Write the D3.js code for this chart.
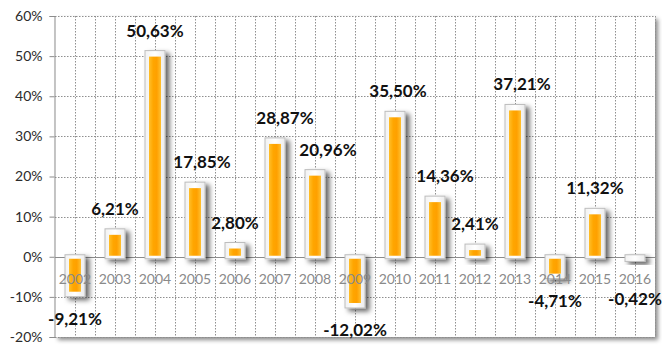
<!DOCTYPE html>
<html>
<head>
<meta charset="utf-8">
<script src="https://cdn.jsdelivr.net/npm/d3@7"></script>
<style>
  html, body { margin: 0; padding: 0; background: #fff; }
  svg { display: block; }
</style>
</head>
<body>
<svg id="chart" width="662" height="347"></svg>
<script>
// Annual returns, 2002–2016
const years = ["2002","2003","2004","2005","2006","2007","2008","2009","2010","2011","2012","2013","2014","2015","2016"];
const returns = [-9.21, 6.21, 50.63, 17.85, 2.80, 28.87, 20.96, -12.02, 35.50, 14.36, 2.41, 37.21, -4.71, 11.32, -0.42];
const yTicks = [-20, -10, 0, 10, 20, 30, 40, 50, 60];

const W = 662, H = 347;
const margin = { top: 16, right: 7, bottom: 10, left: 55 };
const svg = d3.select("#chart");
const defs = svg.append("defs");

const x = d3.scaleBand().domain(years).range([margin.left, W - margin.right]).padding(0);
const y = d3.scaleLinear().domain([-20, 60]).range([H - margin.bottom, margin.top]);

// decimal comma, plain hyphen for negatives
const fmt = v => (v < 0 ? "-" : "") + d3.format(".2f")(Math.abs(v)).replace(".", ",") + "%";

// shadows
const plotShadow = defs.append("filter").attr("id", "plotShadow")
  .attr("x", "-5%").attr("y", "-5%").attr("width", "112%").attr("height", "115%");
plotShadow.append("feDropShadow").attr("dx", 3).attr("dy", 3).attr("stdDeviation", 2)
  .attr("flood-color", "#000").attr("flood-opacity", 0.45);

const barShadow = defs.append("filter").attr("id", "barShadow")
  .attr("x", "-50%").attr("y", "-20%").attr("width", "220%").attr("height", "160%");
barShadow.append("feDropShadow").attr("dx", 4).attr("dy", 3).attr("stdDeviation", 2.5)
  .attr("flood-color", "#000").attr("flood-opacity", 0.6);

// bar fills
const frameGrad = defs.append("linearGradient").attr("id", "frameGrad")
  .attr("x1", 0).attr("x2", 1).attr("y1", 0).attr("y2", 0);
frameGrad.append("stop").attr("offset", "0%").attr("stop-color", "#f2f2f2");
frameGrad.append("stop").attr("offset", "50%").attr("stop-color", "#ffffff");
frameGrad.append("stop").attr("offset", "100%").attr("stop-color", "#ececec");

const orangeGrad = defs.append("linearGradient").attr("id", "orangeGrad")
  .attr("x1", 0).attr("x2", 1).attr("y1", 0).attr("y2", 0);
orangeGrad.append("stop").attr("offset", "0%").attr("stop-color", "#ffbf2a");
orangeGrad.append("stop").attr("offset", "35%").attr("stop-color", "#ffa600");
orangeGrad.append("stop").attr("offset", "65%").attr("stop-color", "#ffa000");
orangeGrad.append("stop").attr("offset", "100%").attr("stop-color", "#ffc030");

const x0 = margin.left, x1 = W - margin.right;
const yTop = y(60), yBot = y(-20);

// plot area
svg.append("rect")
  .attr("x", x0).attr("y", yTop).attr("width", x1 - x0).attr("height", yBot - yTop)
  .attr("fill", "#fff").attr("filter", "url(#plotShadow)");

// gridlines
const grid = svg.append("g").attr("stroke", "#8f8f8f").attr("stroke-width", 1)
  .attr("stroke-dasharray", "1.5,1.5").attr("fill", "none");
yTicks.filter(t => t !== 0).forEach(t => {
  grid.append("line").attr("x1", x0).attr("x2", x1)
    .attr("y1", Math.round(y(t)) + 0.5).attr("y2", Math.round(y(t)) + 0.5);
});
const half = x.bandwidth() / 2;
d3.range(1, years.length * 2 + 1).forEach(i => {
  const gx = Math.round(x0 + i * half) + 0.5;
  grid.append("line").attr("x1", gx).attr("x2", gx).attr("y1", yTop).attr("y2", yBot);
});

// left axis
const yAxis = d3.axisLeft(y).tickValues(yTicks).tickSize(5).tickPadding(7)
  .tickFormat(d => d + "%");
const gy = svg.append("g").attr("transform", `translate(${x0 - 0.5},0)`).call(yAxis);
gy.select(".domain").attr("stroke", "#8c8c8c");
gy.selectAll(".tick line").attr("stroke", "#8c8c8c");
gy.selectAll(".tick text").attr("fill", "#2b2b2b").attr("font-family", "Lato, 'Open Sans', sans-serif")
  .attr("font-size", 14);

// zero line
svg.append("line").attr("x1", x0).attr("x2", x1)
  .attr("y1", Math.round(y(0)) + 0.5).attr("y2", Math.round(y(0)) + 0.5)
  .attr("stroke", "#8c8c8c").attr("stroke-width", 1);

// bars: white framed column with an orange core
const outerW = 20, innerW = 12;
const bars = svg.append("g").selectAll("g.bar").data(years.map((yr, i) => ({ yr, v: returns[i] })))
  .join("g").attr("class", "bar");

bars.append("rect")
  .attr("x", d => x(d.yr) + x.bandwidth() / 2 - outerW / 2)
  .attr("y", d => d.v >= 0 ? y(d.v) - 3 : y(0) - 2)
  .attr("width", outerW)
  .attr("height", d => Math.abs(y(d.v) - y(0)) + 5)
  .attr("fill", "url(#frameGrad)")
  .attr("stroke", "#bdbdbd").attr("stroke-width", 1)
  .attr("filter", "url(#barShadow)");

bars.append("rect")
  .attr("x", d => x(d.yr) + x.bandwidth() / 2 - innerW / 2)
  .attr("y", d => d.v >= 0 ? y(d.v) + 3 : y(0) + 2)
  .attr("width", innerW)
  .attr("height", d => Math.max(0, Math.abs(y(d.v) - y(0)) - 4))
  .attr("fill", "url(#orangeGrad)");

// category labels
svg.append("g").selectAll("text").data(years).join("text")
  .attr("x", d => x(d) + x.bandwidth() / 2)
  .attr("y", y(0) + 27)
  .attr("text-anchor", "middle")
  .attr("font-family", "Lato, 'Open Sans', sans-serif")
  .attr("font-size", 14)
  .attr("fill", "#8a8a8a")
  .text(d => d);

// value labels; a few are nudged sideways to clear neighbouring bars
const labelShift = { "2005": 7, "2007": 10, "2008": 13, "2010": 3, "2011": 10, "2013": 7 };
svg.append("g").selectAll("text").data(years.map((yr, i) => ({ yr, v: returns[i] }))).join("text")
  .attr("x", d => x(d.yr) + x.bandwidth() / 2 + (labelShift[d.yr] || 0))
  .attr("y", d => d.v >= 0 ? y(d.v) - 17 : Math.max(y(d.v) + 31, y(0) + 48))
  .attr("text-anchor", "middle")
  .attr("font-family", "Lato, 'Open Sans', sans-serif")
  .attr("font-weight", "bold")
  .attr("font-size", 17)
  .attr("fill", "#111")
  .text(d => fmt(d.v));
</script>
</body>
</html>
